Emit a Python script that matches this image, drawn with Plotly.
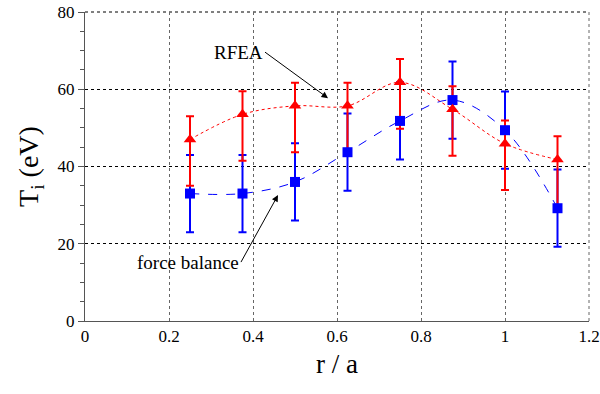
import plotly.graph_objects as go

# Data
r_over_a = [0.25, 0.375, 0.5, 0.625, 0.75, 0.875, 1.0, 1.125]
rfea_ti = [47.0, 53.5, 55.7, 55.7, 61.8, 54.8, 45.9, 41.8]
rfea_err_up = [6, 6, 6, 6, 6, 6, 6, 6]
rfea_err_down = [12, 12, 12, 12, 12, 12, 12, 12]
fb_ti = [33.0, 33.0, 36.0, 43.7, 51.8, 57.2, 49.4, 29.2]
fb_err = [10, 10, 10, 10, 10, 10, 10, 10]

x_ticks = [0, 0.2, 0.4, 0.6, 0.8, 1.0, 1.2]
x_ticklabels = ["0", "0.2", "0.4", "0.6", "0.8", "1", "1.2"]
y_ticks = [0, 20, 40, 60, 80]

RED = "#ff0000"
BLUE = "#0000ff"
FONT = "Liberation Serif, Times New Roman, Times, serif"

fig = go.Figure()

# error bars first (blue, then red), then lines+markers
fig.add_trace(go.Scatter(
    x=r_over_a, y=fb_ti, mode="markers",
    marker=dict(size=1, opacity=0, color=BLUE),
    error_y=dict(type="data", array=fb_err, color=BLUE, thickness=2, width=4),
    showlegend=False, hoverinfo="skip"))
fig.add_trace(go.Scatter(
    x=r_over_a, y=rfea_ti, mode="markers",
    marker=dict(size=1, opacity=0, color=RED),
    error_y=dict(type="data", symmetric=False, array=rfea_err_up,
                 arrayminus=rfea_err_down, color=RED, thickness=2, width=4),
    showlegend=False, hoverinfo="skip"))
fig.add_trace(go.Scatter(
    x=r_over_a, y=fb_ti, mode="lines+markers", name="force balance",
    line=dict(color=BLUE, width=1, dash="dash", shape="spline"),
    marker=dict(symbol="square", size=10, color=BLUE),
    showlegend=False))
fig.add_trace(go.Scatter(
    x=r_over_a, y=rfea_ti, mode="lines+markers", name="RFEA",
    line=dict(color=RED, width=1, dash="dot", shape="spline"),
    marker=dict(symbol="triangle-up", size=11, color=RED),
    showlegend=False))

# labelled arrows (text sits at the arrow tail)
fig.add_annotation(x=0.5786, y=57.7, xref="x", yref="y", text="RFEA",
                   showarrow=True, ax=-63, ay=-46, xanchor="right", yanchor="middle",
                   arrowhead=2, arrowsize=1.3, arrowwidth=1, arrowcolor="black",
                   font=dict(family=FONT, size=19, color="black"))
fig.add_annotation(x=0.4595, y=32.6, xref="x", yref="y", text="force balance",
                   showarrow=True, ax=-37, ay=67, xanchor="right", yanchor="middle",
                   arrowhead=2, arrowsize=1.3, arrowwidth=1, arrowcolor="black",
                   font=dict(family=FONT, size=19, color="black"))

# gridlines at the top and right edges of the plot area
fig.add_shape(type="line", xref="paper", yref="paper", x0=0, x1=1, y0=1, y1=1,
              line=dict(color="#000000", width=1, dash="dot"), layer="below")
fig.add_shape(type="line", xref="paper", yref="paper", x0=1, x1=1, y0=0, y1=1,
              line=dict(color="#666666", width=1, dash="dot"), layer="below")

fig.update_layout(
    width=600, height=394,
    margin=dict(l=85, r=11, t=12, b=73),
    paper_bgcolor="white", plot_bgcolor="white",
    font=dict(family=FONT, size=17, color="black"),
    showlegend=False,
)

fig.update_xaxes(
    range=[0, 1.2], tickvals=x_ticks, ticktext=x_ticklabels,
    showgrid=True, gridcolor="#666666", griddash="dot", gridwidth=1,
    showline=True, linecolor="#555555", linewidth=1,
    ticks="", zeroline=False, automargin=False,
    tickfont=dict(family=FONT, size=17),
    title=dict(text="r / a", font=dict(family=FONT, size=27), standoff=8),
)
fig.update_yaxes(
    range=[0, 80], tickvals=y_ticks,
    showgrid=True, gridcolor="#000000", griddash="dot", gridwidth=1,
    showline=True, linecolor="#555555", linewidth=1,
    ticks="outside", ticklen=6, tickcolor="#555555",
    minor=dict(dtick=5, ticks="outside", ticklen=4, tickcolor="#555555", showgrid=False),
    zeroline=False, automargin=False,
    tickfont=dict(family=FONT, size=17),
    title=dict(text="T<sub>i</sub> (eV)", font=dict(family=FONT, size=28), standoff=10),
)

# remove the default 8px page margin so the figure fills the 600x394 window
fig.write_html("out.html",
               config={"displayModeBar": False},
               post_script="document.body.style.margin='0';document.body.style.overflow='hidden';")
